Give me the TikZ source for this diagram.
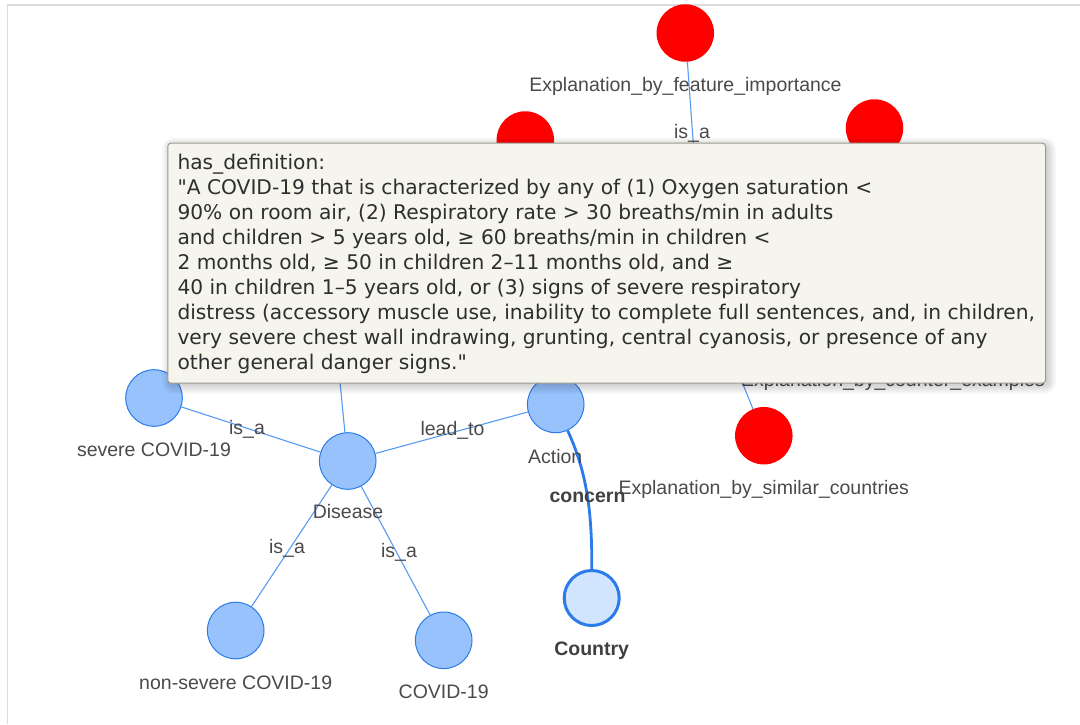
\documentclass[tikz,border=0pt]{standalone}
\usepackage{fontspec}
\setmainfont{Liberation Sans}
\newfontfamily\tipfont{DejaVu Sans}
\definecolor{framec}{HTML}{DCDCDC}
\definecolor{nodefill}{HTML}{97C2FC}
\definecolor{nodeborder}{HTML}{2B7CE9}
\definecolor{selfill}{HTML}{D2E5FF}
\definecolor{edgec}{HTML}{5A9BF0}
\definecolor{labc}{HTML}{4A4A4A}
\definecolor{tipfill}{HTML}{F5F4ED}
\definecolor{tipborder}{HTML}{9A9A8E}
\definecolor{tiptext}{HTML}{2E2E2E}
\pgfdeclarelayer{bottom}
\pgfdeclarelayer{edges}
\pgfsetlayers{bottom,edges,main}
\tikzset{
  bnode/.style={circle, draw=nodeborder, fill=nodefill, line width=1pt, minimum size=56.6pt, inner sep=0pt},
  cnode/.style={circle, draw=nodeborder, fill=selfill, line width=3pt, minimum size=55pt, inner sep=0pt},
  rnode/.style={circle, fill=red, minimum size=57.5pt, inner sep=0pt},
  edgeline/.style={draw=edgec, line width=1.1pt},
  boldedge/.style={draw=nodeborder, line width=2.8pt},
  lab/.style={text=labc, font=\fontsize{19.5}{22}\selectfont, inner sep=0pt, anchor=base},
  blab/.style={lab, text=black!75, font=\fontsize{19.5}{22}\selectfont\bfseries},
  tipt/.style={text=tiptext, font=\tipfont\fontsize{20.2}{25}\selectfont, inner sep=0pt, anchor=base west},
}
\begin{document}
\begin{tikzpicture}[x=1pt,y=-1pt]
\useasboundingbox (0,0) rectangle (1080,724);
\begin{pgfonlayer}{bottom}
\fill[white] (0,0) rectangle (1080,724);
\draw[framec, line width=1.7pt] (7.5,724) -- (7.5,5.2) -- (1080,5.2);
\end{pgfonlayer}

% nodes
\node[rnode] (rtop) at (685.3,33) {};
\node[rnode] (rleft) at (525.3,140) {};
\node[rnode] (rright) at (874.5,128) {};
\node[rnode] (rsim) at (763.8,435.7) {};
\node[bnode] (sev) at (154,398) {};
\node[bnode] (dis) at (347.7,461) {};
\node[bnode] (act) at (555.7,404.4) {};
\node[bnode] (nsv) at (235.7,630.5) {};
\node[bnode] (cov) at (443.7,640.3) {};
\node[cnode] (cty) at (591.7,598) {};
\coordinate (hidA) at (701,250);
\coordinate (hidB) at (332,300);
\coordinate (hidC) at (721,330);

% edges
\begin{pgfonlayer}{edges}
\draw[edgeline] (rtop) -- (hidA);
\draw[edgeline] (dis) -- (hidB);
\draw[edgeline] (rsim) -- (hidC);
\draw[edgeline] (sev) -- (dis);
\draw[edgeline] (dis) -- (act);
\draw[edgeline] (dis) -- (nsv);
\draw[edgeline] (dis) -- (cov);
\draw[boldedge] (act) .. controls (588,475) and (592,515) .. (cty);
\end{pgfonlayer}

% node labels
\node[lab] (lrtop) at (685.5,91) {Explanation\_by\_feature\_importance};
\node[lab] (lrsim) at (763.8,494.3) {Explanation\_by\_similar\_countries};
\node[lab] (lcnt) at (893,386.5) {Explanation\_by\_counter\_examples};
\node[lab] (lsev) at (154,456.3) {severe COVID-19};
\node[lab] (ldis) at (348,518.7) {Disease};
\node[lab] (lact) at (555.2,463) {Action};
\node[lab] (lnsv) at (235.7,689.7) {non-severe COVID-19};
\node[lab] (lcov) at (443.7,698) {COVID-19};
\node[blab] (lcty) at (591.7,655.3) {Country};

% edge labels
\node[lab] (e1) at (692,138.3) {is\_a};
\node[lab] (e2) at (247,434.5) {is\_a};
\node[lab] (e3) at (452.5,435) {lead\_to};
\node[lab] (e4) at (287,553) {is\_a};
\node[lab] (e5) at (399,557) {is\_a};
\node[blab] (e6) at (587.5,502) {concern};

% tooltip
\foreach \r in {0,2,4,6,8}
  \fill[black, opacity=0.035, rounded corners=4pt+\r pt] (170.3-\r,145.7-\r) rectangle (1048+\r,385.7+\r);
\node[draw=tipborder, fill=tipfill, line width=1pt, rounded corners=3pt, minimum width=877.7pt, minimum height=240pt, anchor=north west, inner sep=0pt] (tip) at (167.3,142.7) {};
\node[tipt] (t1) at (177.3,169.3) {has\_definition:};
\node[tipt] (t2) at (177.3,194.3) {"A COVID-19 that is characterized by any of (1) Oxygen saturation <};
\node[tipt] (t3) at (177.3,219.3) {90\% on room air, (2) Respiratory rate > 30 breaths/min in adults};
\node[tipt] (t4) at (177.3,244.3) {and children > 5 years old, ≥ 60 breaths/min in children <};
\node[tipt] (t5) at (177.3,269.3) {2 months old, ≥ 50 in children 2–11 months old, and ≥};
\node[tipt] (t6) at (177.3,294.3) {40 in children 1–5 years old, or (3) signs of severe respiratory};
\node[tipt] (t7) at (177.3,319.3) {distress (accessory muscle use, inability to complete full sentences, and, in children,};
\node[tipt] (t8) at (177.3,344.3) {very severe chest wall indrawing, grunting, central cyanosis, or presence of any};
\node[tipt] (t9) at (177.3,369.3) {other general danger signs."};
\end{tikzpicture}
\end{document}
